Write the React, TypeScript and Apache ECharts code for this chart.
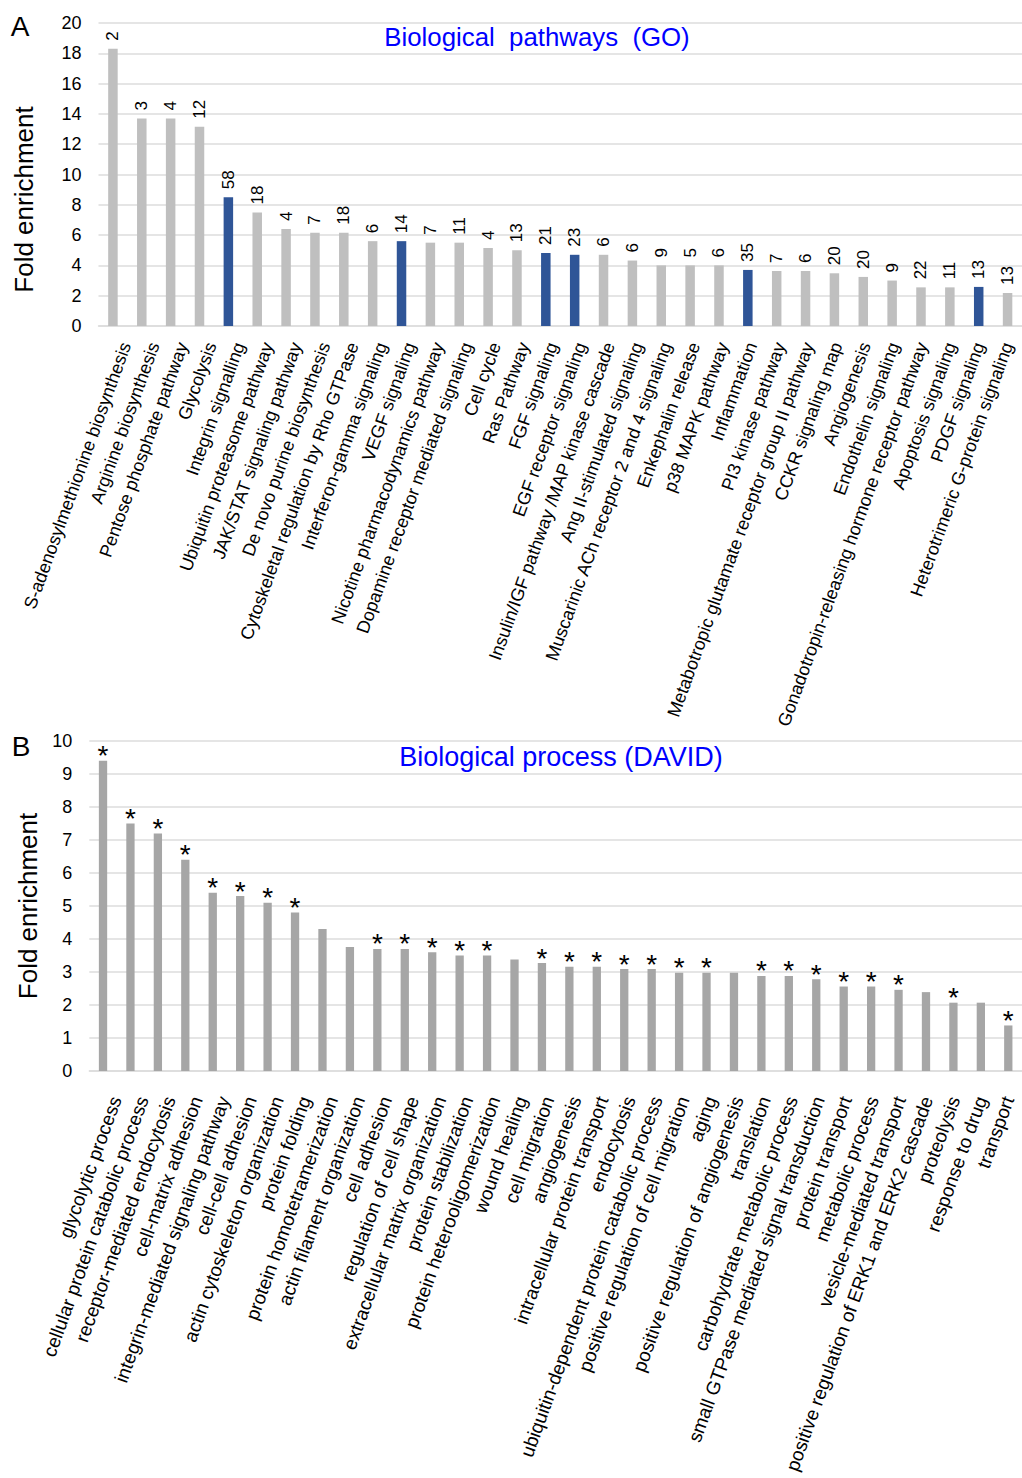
import React, { useEffect, useRef } from "react";
import * as echarts from "echarts";

const pathwayNames = [
  "S-adenosylmethionine biosynthesis",
  "Arginine biosynthesis",
  "Pentose phosphate pathway",
  "Glycolysis",
  "Integrin signalling",
  "Ubiquitin proteasome pathway",
  "JAK/STAT signaling pathway",
  "De novo purine biosynthesis",
  "Cytoskeletal regulation by Rho GTPase",
  "Interferon-gamma signaling",
  "VEGF signaling",
  "Nicotine pharmacodynamics pathway",
  "Dopamine receptor mediated signaling",
  "Cell cycle",
  "Ras Pathway",
  "FGF signaling",
  "EGF receptor signaling",
  "Insulin/IGF pathway /MAP kinase cascade",
  "Ang II-stimulated signaling",
  "Muscarinic ACh receptor 2 and 4 signaling",
  "Enkephalin release",
  "p38 MAPK pathway",
  "Inflammation",
  "PI3 kinase pathway",
  "Metabotropic glutamate receptor group II pathway",
  "CCKR signaling map",
  "Angiogenesis",
  "Endothelin signaling",
  "Gonadotropin-releasing hormone receptor pathway",
  "Apoptosis signaling",
  "PDGF signaling",
  "Heterotrimeric G-protein signaling",
];
const pathwayFold = [
  18.3, 13.7, 13.7, 13.15, 8.5, 7.5, 6.4, 6.15, 6.15, 5.6, 5.6, 5.5, 5.5, 5.15, 5.0, 4.82,
  4.7, 4.7, 4.32, 4.0, 4.0, 4.0, 3.7, 3.63, 3.63, 3.48, 3.24, 3.0, 2.55, 2.55, 2.58, 2.18,
];
const pathwayGenes = [
  2, 3, 4, 12, 58, 18, 4, 7, 18, 6, 14, 7, 11, 4, 13, 21, 23, 6, 6, 9, 5, 6, 35, 7, 6, 20, 20,
  9, 22, 11, 13, 13,
];
const pathwayHighlighted = [
  0, 0, 0, 0, 1, 0, 0, 0, 0, 0, 1, 0, 0, 0, 0, 1, 1, 0, 0, 0, 0, 0, 1, 0, 0, 0, 0, 0, 0, 0, 1, 0,
];

const processNames = [
  "glycolytic process",
  "cellular protein catabolic process",
  "receptor-mediated endocytosis",
  "cell-matrix adhesion",
  "integrin-mediated signaling pathway",
  "cell-cell adhesion",
  "actin cytoskeleton organization",
  "protein folding",
  "protein homotetramerization",
  "actin filament organization",
  "cell adhesion",
  "regulation of cell shape",
  "extracellular matrix organization",
  "protein stabilization",
  "protein heterooligomerization",
  "wound healing",
  "cell migration",
  "angiogenesis",
  "intracellular protein transport",
  "endocytosis",
  "ubiquitin-dependent protein catabolic process",
  "positive regulation of cell migration",
  "aging",
  "positive regulation of angiogenesis",
  "translation",
  "carbohydrate metabolic process",
  "small GTPase mediated signal transduction",
  "protein transport",
  "metabolic process",
  "vesicle-mediated transport",
  "positive regulation of ERK1 and ERK2 cascade",
  "proteolysis",
  "response to drug",
  "transport",
];
const processFold = [
  9.4, 7.5, 7.2, 6.4, 5.4, 5.3, 5.1, 4.8, 4.3, 3.76, 3.7, 3.7, 3.6, 3.5, 3.5, 3.38, 3.27, 3.16,
  3.16, 3.09, 3.09, 2.98, 2.98, 2.98, 2.88, 2.88, 2.78, 2.56, 2.56, 2.46, 2.39, 2.07, 2.07, 1.38,
];
const processSignificant = [
  1, 1, 1, 1, 1, 1, 1, 1, 0, 0, 1, 1, 1, 1, 1, 0, 1, 1, 1, 1, 1, 1, 1, 0, 1, 1, 1, 1, 1, 1, 0, 1,
  0, 1,
];

const pathwayTicks = [0, 20, 2];
const processTicks = [0, 10, 1];

const FONT = "'Liberation Sans', Arial, Helvetica, sans-serif";
const GRID_COLOR = "#dcdcdc";

// plot areas
const TOP = { left: 98.5, top: 23, width: 931, height: 303 };
const BOT = { left: 89.3, top: 741, width: 934.3, height: 330 };
const LABEL_SHIFT = 13; // category labels sit slightly right of the tick, as in the source

export default function App() {
  const ref = useRef<HTMLDivElement>(null);

  useEffect(() => {
    if (!ref.current) return;
    const chart = echarts.init(ref.current, undefined, { renderer: "svg" });

    const topData = pathwayFold.map((v, i) => ({
      value: v,
      itemStyle: { color: pathwayHighlighted[i] ? "#2f5597" : "#bfbfbf" },
    }));
    const bottomData = processFold.map((v) => ({ value: v }));

    const catAxis = (gridIndex: number, data: string[], showLabel: boolean, margin: number, fontSize: number, showLine: boolean) => ({
      type: "category",
      gridIndex,
      data,
      axisTick: { show: false },
      axisLine: { show: showLine, lineStyle: { color: GRID_COLOR, width: 1.5 } },
      axisLabel: {
        show: showLabel,
        interval: 0,
        rotate: 70,
        margin,
        fontSize,
        color: "#000",
        fontFamily: FONT,
      },
    });

    const option: any = {
      animation: false,
      textStyle: { fontFamily: FONT },
      grid: [
        { ...TOP },
        { ...BOT },
        { ...TOP, left: TOP.left + LABEL_SHIFT },
        { ...BOT, left: BOT.left + LABEL_SHIFT },
      ],
      xAxis: [
        catAxis(0, pathwayNames, false, 0, 18, true),
        catAxis(1, processNames, false, 0, 19, true),
        catAxis(2, pathwayNames, true, 17, 18, false),
        catAxis(3, processNames, true, 26, 19, false),
      ],
      yAxis: [
        {
          type: "value",
          gridIndex: 0,
          min: pathwayTicks[0],
          max: pathwayTicks[1],
          interval: pathwayTicks[2],
          name: "Fold enrichment",
          nameLocation: "middle",
          nameGap: 62,
          nameTextStyle: { fontSize: 26, color: "#000", fontFamily: FONT, padding: [0, 50, 0, 0] },
          axisLine: { show: false },
          axisTick: { show: false },
          axisLabel: { fontSize: 18, color: "#000", margin: 17, fontFamily: FONT },
          splitLine: { lineStyle: { color: GRID_COLOR, width: 1.5 } },
        },
        {
          type: "value",
          gridIndex: 1,
          min: processTicks[0],
          max: processTicks[1],
          interval: processTicks[2],
          name: "Fold enrichment",
          nameLocation: "middle",
          nameGap: 46,
          nameTextStyle: { fontSize: 26, color: "#000", fontFamily: FONT },
          axisLine: { show: false },
          axisTick: { show: false },
          axisLabel: { fontSize: 18, color: "#000", margin: 17, fontFamily: FONT },
          splitLine: { lineStyle: { color: GRID_COLOR, width: 1.5 } },
        },
        { type: "value", gridIndex: 2, show: false, min: pathwayTicks[0], max: pathwayTicks[1] },
        { type: "value", gridIndex: 3, show: false, min: processTicks[0], max: processTicks[1] },
      ],
      series: [
        {
          type: "bar",
          xAxisIndex: 0,
          yAxisIndex: 0,
          data: topData,
          barWidth: 9.5,
          label: {
            show: true,
            position: "top",
            rotate: 90,
            align: "left",
            verticalAlign: "middle",
            distance: 8,
            fontSize: 17,
            color: "#000",
            fontFamily: FONT,
            formatter: (p: any) => String(pathwayGenes[p.dataIndex]),
          },
        },
        {
          type: "bar",
          xAxisIndex: 1,
          yAxisIndex: 1,
          data: bottomData,
          barWidth: 8.3,
          itemStyle: { color: "#a6a6a6" },
          label: {
            show: true,
            position: "top",
            distance: -9,
            fontSize: 28,
            color: "#000",
            fontFamily: FONT,
            formatter: (p: any) => (processSignificant[p.dataIndex] ? "*" : ""),
          },
        },
      ],
      graphic: [
        {
          type: "text",
          x: 20,
          y: 26,
          style: { text: "A", fontSize: 28, fontFamily: FONT, fill: "#000", align: "center", verticalAlign: "middle" },
        },
        {
          type: "text",
          x: 21,
          y: 746,
          style: { text: "B", fontSize: 28, fontFamily: FONT, fill: "#000", align: "center", verticalAlign: "middle" },
        },
        {
          type: "text",
          x: 537,
          y: 37,
          style: {
            text: "Biological  pathways  (GO)",
            fontSize: 25.8,
            fontFamily: FONT,
            fill: "#0000ff",
            align: "center",
            verticalAlign: "middle",
          },
        },
        {
          type: "text",
          x: 561,
          y: 757,
          style: {
            text: "Biological process (DAVID)",
            fontSize: 27,
            fontFamily: FONT,
            fill: "#0000ff",
            align: "center",
            verticalAlign: "middle",
          },
        },
      ],
    };

    chart.setOption(option);
    return () => chart.dispose();
  }, []);

  return (
    <div
      ref={ref}
      style={{ position: "absolute", left: 0, top: 0, width: 1022, height: 1478, background: "#fff" }}
    />
  );
}
